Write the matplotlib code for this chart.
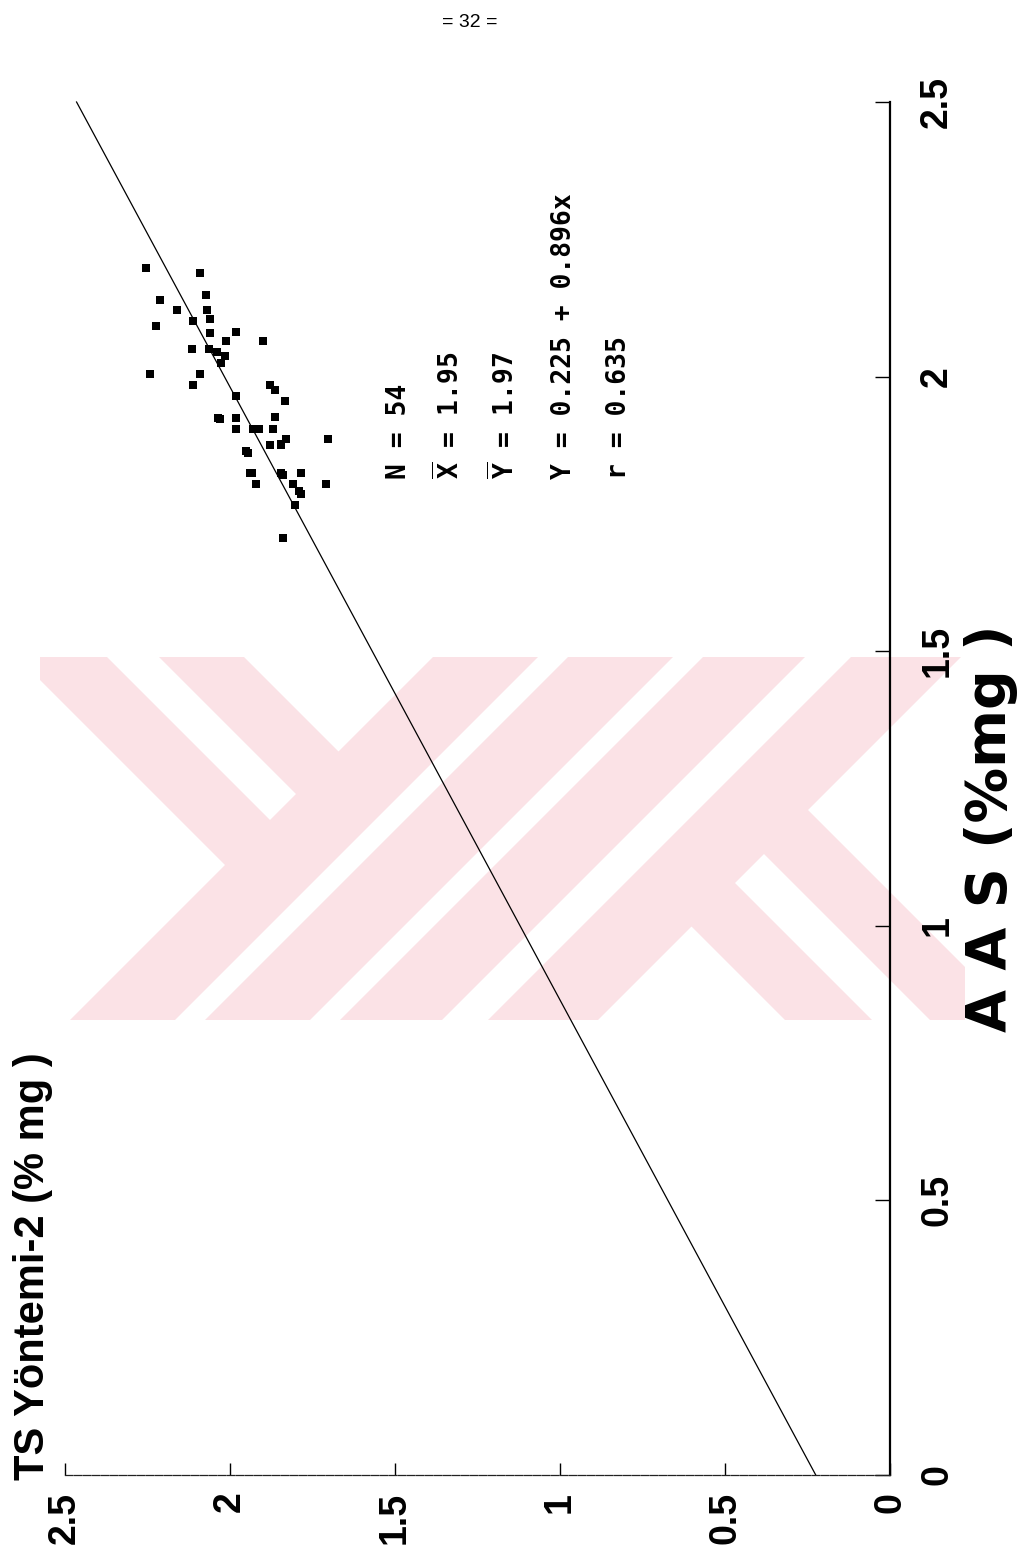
import matplotlib
matplotlib.use("Agg")
import matplotlib.pyplot as plt
from matplotlib.patches import Polygon, Rectangle

# ---------------- data ----------------
# AAS (%mg) values -> original x axis
aas = [2.198, 2.189, 2.140, 2.149, 2.122, 2.122, 2.093, 2.102, 2.104, 2.080,
       2.082, 2.065, 2.064, 2.051, 2.051, 2.044, 2.038, 2.025, 2.004, 2.004,
       1.984, 1.964, 1.984, 1.976, 1.955, 1.924, 1.924, 1.927, 1.905, 1.905,
       1.905, 1.905, 1.887, 1.878, 1.876, 1.887, 1.864, 1.824, 1.824, 1.824,
       1.805, 1.805, 1.805, 1.787, 1.767, 1.707,
       1.904, 1.904, 1.860, 1.825, 1.922, 1.820, 1.876, 1.791]
# TS Yontemi-2 (% mg) values -> original y axis
ts = [2.255, 2.091, 2.212, 2.073, 2.161, 2.070, 2.224, 2.112, 2.061, 2.061,
      1.982, 2.012, 1.900, 2.115, 2.064, 2.039, 2.015, 2.027, 2.242, 2.091,
      2.112, 1.982, 1.879, 1.864, 1.833, 2.036, 1.982, 1.864, 1.982, 1.930,
      1.912, 1.870, 1.830, 1.845, 1.879, 1.703, 1.952, 1.939, 1.845, 1.785,
      1.921, 1.809, 1.709, 1.785, 1.803, 1.839,
      1.982, 1.924, 1.945, 1.933, 2.030, 1.839, 1.845, 1.791]

intercept = 0.225
slope = 0.896
line_x = [0.0, 2.5]

tick_values = [0, 0.5, 1, 1.5, 2, 2.5]
tick_labels = ["0", "0.5", "1", "1.5", "2", "2.5"]

stats_lines = ["N = 54", r"$\overline{\mathrm{X}}$ = 1.95", r"$\overline{\mathrm{Y}}$ = 1.97",
               "Y = 0.225 + 0.896x", "r = 0.635"]

x_label = "A A S (%mg )"
y_label = "TS Yöntemi-2 (% mg )"
page_label = "= 32 ="

# ---------------- styling ----------------
plt.rcParams['font.family'] = ['Liberation Sans', 'DejaVu Sans']
plt.rcParams['mathtext.fontset'] = 'custom'
plt.rcParams['mathtext.rm'] = 'DejaVu Sans Mono:bold'
plt.rcParams['mathtext.it'] = 'DejaVu Sans Mono:bold'
plt.rcParams['mathtext.bf'] = 'DejaVu Sans Mono:bold'

W, H = 1022, 1557
fig = plt.figure(figsize=(W / 100, H / 100), dpi=100)
fig.patch.set_facecolor('white')

# background layer in page-pixel coordinates (y downwards)
bg = fig.add_axes([0, 0, 1, 1])
bg.set_xlim(0, W)
bg.set_ylim(H, 0)
bg.axis('off')
bg.set_zorder(0)

# faint watermark (decoration of the scanned page)
wm_color = '#fbe2e6'
clip = Rectangle((40, 657), 925, 363, transform=bg.transData, facecolor='none', edgecolor='none')
bg.add_patch(clip)
bands = [  # (c range = x+y, d range = x-y) in page pixels
    ((0, 1100), (-640, -550)),
    ((0, 1100), (-498, -413)),
    ((1090, 1195), (-2000, 2000)),
    ((1225, 1330), (-2000, 2000)),
    ((1360, 1462), (-2000, 2000)),
    ((1508, 1618), (-2000, 2000)),
    ((1610, 3000), (-235, -148)),
    ((1610, 3000), (-90, -2)),
]
for (c1, c2), (d1, d2) in bands:
    pts = [((c + d) / 2, (c - d) / 2) for c, d in [(c1, d1), (c1, d2), (c2, d2), (c2, d1)]]
    p = Polygon(pts, closed=True, facecolor=wm_color, edgecolor='none')
    bg.add_patch(p)
    p.set_clip_path(clip)

# ---------------- main (rotated) axes ----------------
left_px, right_px = 65, 890
top_px, bot_px = 102, 1475
ax = fig.add_axes([left_px / W, 1 - bot_px / H, (right_px - left_px) / W, (bot_px - top_px) / H])
ax.set_zorder(1)
ax.patch.set_alpha(0)

# horizontal axis = TS (increasing to the left), vertical axis = AAS
ax.set_xlim(2.5, 0)
ax.set_ylim(0, 2.5)

ax.plot(ts, aas, linestyle='none', marker='s', markersize=5.2, color='black',
        markeredgewidth=0, zorder=3)
line_y = [intercept + slope * v for v in line_x]
ax.plot(line_y, line_x, color='black', linewidth=0.9, zorder=2, clip_on=False)

for s in ['top', 'left']:
    ax.spines[s].set_visible(False)
ax.spines['bottom'].set_linewidth(0.9)
ax.spines['bottom'].set_linestyle((0, (6, 1.2)))
ax.spines['bottom'].set_color('#222222')
ax.spines['right'].set_linewidth(1.6)

ax.yaxis.tick_right()
ax.set_xticks(tick_values, labels=tick_labels)
ax.set_yticks(tick_values, labels=tick_labels)
ax.tick_params(axis='x', direction='in', length=9, width=1, pad=12, labelsize=27,
               labelrotation=90)
ax.tick_params(axis='y', direction='in', length=11, width=1, pad=21, labelsize=27,
               labelrotation=90)
for lbl in ax.get_xticklabels() + ax.get_yticklabels():
    lbl.set_fontweight('bold')
for lbl in ax.get_yticklabels():
    lbl.set_verticalalignment('center')

# ---------------- texts ----------------
bg.text(1006, 1032, x_label, rotation=90, rotation_mode='anchor', ha='left', va='baseline',
        fontsize=40, fontweight='bold', family='DejaVu Sans', zorder=5)
bg.text(44, 1480, y_label, rotation=90, rotation_mode='anchor', ha='left', va='baseline',
        fontsize=30, fontweight='bold', zorder=5)
bg.text(470, 22, page_label, ha='center', va='center', fontsize=14, zorder=5)

stat_x = [399, 449, 504, 564, 619]
for xs, s in zip(stat_x, stats_lines):
    bg.text(xs, 479, s, rotation=90, rotation_mode='anchor', ha='left', va='center',
            fontsize=19, fontweight='bold', family='DejaVu Sans Mono', zorder=5)

fig.savefig('out.png', dpi=100, facecolor='white')
